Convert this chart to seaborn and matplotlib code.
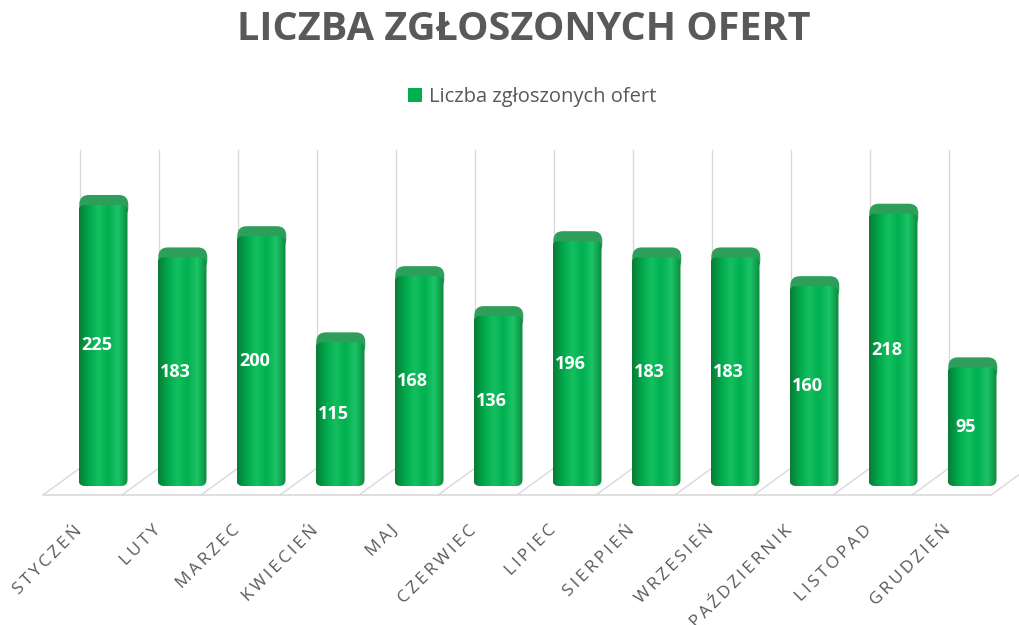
import numpy as np
import pandas as pd
import seaborn as sns
import matplotlib.pyplot as plt
import matplotlib.transforms as mtransforms
from matplotlib.patches import FancyBboxPatch, Patch
from matplotlib.colors import LinearSegmentedColormap

months = ['STYCZEŃ', 'LUTY', 'MARZEC', 'KWIECIEŃ', 'MAJ', 'CZERWIEC',
          'LIPIEC', 'SIERPIEŃ', 'WRZESIEŃ', 'PAŹDZIERNIK', 'LISTOPAD', 'GRUDZIEŃ']
offers = [225, 183, 200, 115, 168, 136, 196, 183, 183, 160, 218, 95]
series_name = 'Liczba zgłoszonych ofert'
title = 'LICZBA ZGŁOSZONYCH OFERT'

sns.set_theme(style='white')
plt.rcParams['font.family'] = ['Open Sans', 'DejaVu Sans']

grey = '#595959'
green = '#00B050'
line_col = '#D9D9D9'

df = pd.DataFrame({'miesiac': months, 'oferty': offers})

fig = plt.figure(figsize=(10.19, 6.25), dpi=100)
ax = fig.add_axes([0, 0.2, 1, 0.576])
sns.barplot(data=df, x='miesiac', y='oferty', color=green, width=0.62,
            ax=ax, zorder=3)

# fake 3d floor and back wall lines
n = len(months)
for i in range(n + 1):
    ax.plot([i - 0.29, i - 0.29], [14.4, 269], color=line_col, lw=1, zorder=1)
    ax.plot([i - 0.76, i - 0.29], [-7.2, 14.4], color=line_col, lw=1, zorder=1)
ax.plot([-0.76, n - 0.76], [-7.2, -7.2], color=line_col, lw=1.2, zorder=1)

# rounded bars with a cylinder-like gradient and a lighter top cap
cmap = LinearSegmentedColormap.from_list(
    'bar', ['#0B7A35', '#00A84C', '#14BF5E', '#00B050', '#1CC466', '#0A8A3C'])
grad = np.linspace(0, 1, 256).reshape(1, -1)
bars = list(ax.patches)
for bar in bars:
    x0, w, h = bar.get_x(), bar.get_width(), bar.get_height()
    cap = FancyBboxPatch((x0 + 0.01, h - 10), w, 18,
                         boxstyle='round,pad=0,rounding_size=0.12',
                         mutation_aspect=63, facecolor='#2E9F5A',
                         edgecolor='none', zorder=2.9)
    ax.add_patch(cap)
    shape = FancyBboxPatch((x0, 0), w, h,
                           boxstyle='round,pad=0,rounding_size=0.08',
                           mutation_aspect=63, facecolor='none',
                           edgecolor='none', transform=ax.transData)
    ax.add_patch(shape)
    img = ax.imshow(grad, cmap=cmap, extent=(x0, x0 + w, 0, h),
                    aspect='auto', zorder=3)
    img.set_clip_path(shape)
    bar.set_visible(False)

for i, v in enumerate(offers):
    ax.text(i - 0.08, v / 2, str(v), color='white', fontsize=13,
            fontweight='bold', ha='center', va='center', zorder=5)

ax.set_xlim(-1.304, 11.595)
ax.set_ylim(-11.2, 277)
ax.axis('off')

trans = mtransforms.blended_transform_factory(ax.transData, fig.transFigure)
for i, m in enumerate(months):
    ax.text(i - 0.3, 0.155, '\u2009'.join(m), transform=trans, rotation=45,
            rotation_mode='anchor', ha='right', va='center', fontsize=12.5,
            color=grey)

fig.text(0.514, 0.952, title, ha='center', va='center', fontsize=28.5,
         fontweight='bold', color=grey)
fig.legend(handles=[Patch(facecolor=green, edgecolor='none', label=series_name)],
           loc='center', bbox_to_anchor=(0.522, 0.845), frameon=False,
           fontsize=14.5, handlelength=0.7, handleheight=0.7,
           handletextpad=0.35, labelcolor=grey)

fig.savefig('out.png', dpi=100)
